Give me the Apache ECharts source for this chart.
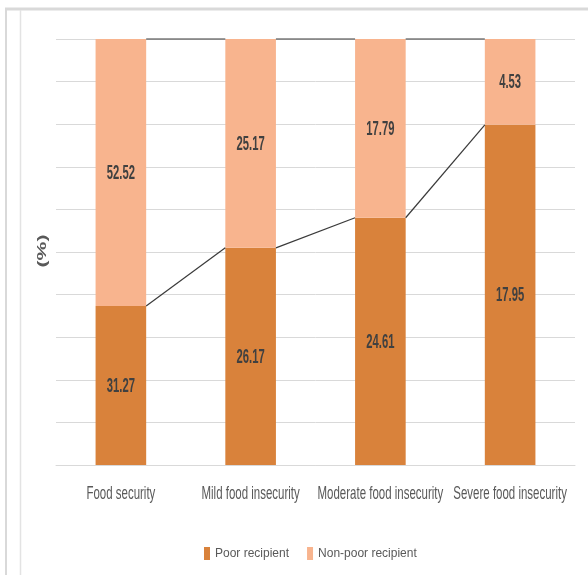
<!DOCTYPE html>
<html>
<head>
<meta charset="utf-8">
<script src="https://cdn.jsdelivr.net/npm/echarts@6/dist/echarts.min.js"></script>
<style>
html,body{margin:0;padding:0;background:#fff;}
#c{width:588px;height:575px;}
</style>
</head>
<body>
<div id="c"></div>
<script>
var categories = ['Food security', 'Mild food insecurity', 'Moderate food insecurity', 'Severe food insecurity'];
var poorValues = [31.27, 26.17, 24.61, 17.95];
var nonPoorValues = [52.52, 25.17, 17.79, 4.53];
var seriesNames = ['Poor recipient', 'Non-poor recipient'];

var poorPct = poorValues.map(function (v, i) { return v / (v + nonPoorValues[i]) * 100; });
var nonPoorPct = poorPct.map(function (p) { return 100 - p; });

var poorLines = [];
var topLines = [];
for (var i = 0; i < categories.length - 1; i++) {
  poorLines.push([i, poorPct[i], poorPct[i + 1]]);
  topLines.push([i, 100, 100]);
}
// label anchors: [category index, centre of segment (%), value shown]
var poorLabelData = poorPct.map(function (p, i) { return [i, p / 2, poorValues[i]]; });
var nonPoorLabelData = poorPct.map(function (p, i) { return [i, p + nonPoorPct[i] / 2, nonPoorValues[i]]; });
var catLabelData = categories.map(function (c, i) { return [i, 0]; });

var BAR_FRAC = 0.39;
var FONT = '"Liberation Sans", Arial, sans-serif';

function seriesLine(params, api) {
  var i = api.value(0);
  var p1 = api.coord([i, api.value(1)]);
  var p2 = api.coord([i + 1, api.value(2)]);
  var hw = api.size([1, 0])[0] * BAR_FRAC / 2;
  return {
    type: 'line',
    shape: { x1: p1[0] + hw, y1: p1[1], x2: p2[0] - hw, y2: p2[1] },
    style: { stroke: '#3a3a3a', lineWidth: 1.2 }
  };
}

function barLabel(params, api) {
  var p = api.coord([api.value(0), api.value(1)]);
  return {
    type: 'text',
    x: p[0],
    y: p[1] + 1,
    scaleX: 0.75,
    scaleY: 1.3,
    style: {
      text: api.value(2).toFixed(2),
      fill: '#404040',
      font: 'bold 15px ' + FONT,
      align: 'center',
      verticalAlign: 'middle'
    }
  };
}

function catLabel(params, api) {
  var p = api.coord([api.value(0), 0]);
  return {
    type: 'text',
    x: p[0],
    y: p[1] + 29,
    scaleX: 0.82,
    scaleY: 1.3,
    style: {
      text: categories[params.dataIndex],
      fill: '#595959',
      font: '14px ' + FONT,
      align: 'center',
      verticalAlign: 'middle'
    }
  };
}

var chart = echarts.init(document.getElementById('c'), null, { renderer: 'canvas' });
chart.setOption({
  animation: false,
  backgroundColor: '#fff',
  textStyle: { fontFamily: FONT },
  graphic: [
    { type: 'line', shape: { x1: 5, y1: 9, x2: 588, y2: 9 }, style: { stroke: '#d9d9d9', lineWidth: 3 }, silent: true },
    { type: 'line', shape: { x1: 6, y1: 8, x2: 6, y2: 575 }, style: { stroke: '#d9d9d9', lineWidth: 2 }, silent: true },
    { type: 'line', shape: { x1: 20.5, y1: 10, x2: 20.5, y2: 575 }, style: { stroke: '#e3e3e3', lineWidth: 1.5 }, silent: true },
    {
      type: 'text', x: 43, y: 251, rotation: Math.PI / 2, scaleX: 1.25, scaleY: 0.72, silent: true,
      style: { text: '(%)', fill: '#595959', font: 'bold 17px ' + FONT, align: 'center', verticalAlign: 'middle' }
    }
  ],
  grid: { left: 56, right: 13, top: 39, bottom: 110 },
  legend: {
    data: seriesNames,
    left: 199,
    top: 542,
    itemWidth: 6,
    itemHeight: 13,
    itemGap: 18,
    icon: 'rect',
    textStyle: { color: '#595959', fontSize: 12, fontFamily: FONT }
  },
  xAxis: {
    type: 'category',
    data: categories,
    axisLine: { lineStyle: { color: '#d9d9d9', width: 1 } },
    axisTick: { show: false },
    axisLabel: { show: false }
  },
  yAxis: {
    type: 'value',
    min: 0,
    max: 100,
    interval: 10,
    axisLabel: { show: false },
    axisLine: { show: false },
    axisTick: { show: false },
    splitLine: { lineStyle: { color: '#d9d9d9', width: 1 } }
  },
  series: [
    {
      name: seriesNames[0],
      type: 'bar',
      stack: 'total',
      barWidth: (BAR_FRAC * 100) + '%',
      data: poorPct,
      itemStyle: { color: '#D9823B' }
    },
    {
      name: seriesNames[1],
      type: 'bar',
      stack: 'total',
      barWidth: (BAR_FRAC * 100) + '%',
      data: nonPoorPct,
      itemStyle: { color: '#F8B48E' }
    },
    { type: 'custom', renderItem: seriesLine, data: poorLines, encode: { x: 0, y: [1, 2] }, silent: true, z: 5 },
    { type: 'custom', renderItem: seriesLine, data: topLines, encode: { x: 0, y: [1, 2] }, silent: true, z: 5 },
    { type: 'custom', renderItem: barLabel, data: poorLabelData, encode: { x: 0, y: 1 }, silent: true, z: 6 },
    { type: 'custom', renderItem: barLabel, data: nonPoorLabelData, encode: { x: 0, y: 1 }, silent: true, z: 6 },
    { type: 'custom', renderItem: catLabel, data: catLabelData, encode: { x: 0, y: 1 }, silent: true, clip: false, z: 6 }
  ]
});
</script>
</body>
</html>
